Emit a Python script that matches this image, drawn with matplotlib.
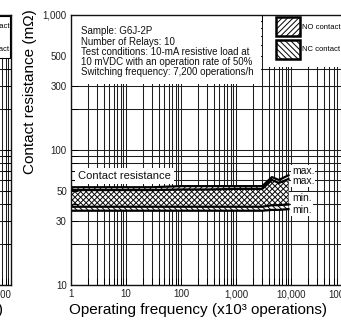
import numpy as np
import matplotlib
matplotlib.use('Agg')
import matplotlib.pyplot as plt
from matplotlib.patches import Patch, Rectangle
from matplotlib.ticker import NullFormatter, FuncFormatter

plt.rcParams['font.family'] = ['Liberation Sans', 'DejaVu Sans']
plt.rcParams['hatch.linewidth'] = 0.7

# ---- data ----
freq = [1, 3, 10, 30, 100, 300, 1000, 3000, 4500, 6000, 9000]
no_max = [53, 53, 53, 53, 54, 54, 54, 54, 63, 60, 65]
nc_max = [50.5, 50.5, 50.5, 50.5, 51, 51, 51.5, 51.5, 60, 57, 61]
no_min = [38, 38, 38, 38, 38, 38, 38, 38, 39, 39, 39.5]
nc_min = [35.5, 35.5, 35.5, 35.5, 35.5, 35.5, 35.5, 35.5, 36, 36, 36.5]

y_ticks = [10, 30, 50, 100, 300, 500, 1000]
x_ticks = [1, 10, 100, 1000, 10000, 100000, 1000000]
info_lines = ["Sample: G6J-2P",
              "Number of Relays: 10",
              "Test conditions: 10-mA resistive load at",
              "10 mVDC with an operation rate of 50%",
              "Switching frequency: 7,200 operations/h"]
legend_labels = ["NO contact", "NC contact"]
end_labels = ["max.", "max.", "min.", "min."]
end_label_y = [70, 59, 44, 36]

W, H = 341, 321
fig = plt.figure(figsize=(W / 100, H / 100), dpi=100)

GRID_C = '#1e1e1e'


def fmt(v, pos):
    return f"{v:,.0f}"


def setup(ax):
    ax.set_xscale('log')
    ax.set_yscale('log')
    ax.set_xlim(1, 1e6)
    ax.set_ylim(10, 1000)
    for e in range(6):
        for m in range(1, 10):
            ax.axvline(m * 10 ** e, color=GRID_C, lw=0.75, zorder=1)
    for e in (1, 2):
        for m in range(1, 10):
            ax.axhline(m * 10 ** e, color=GRID_C, lw=0.75, zorder=1)
    ax.set_xticks(x_ticks)
    ax.set_yticks(y_ticks)
    ax.xaxis.set_major_formatter(FuncFormatter(fmt))
    ax.yaxis.set_major_formatter(FuncFormatter(fmt))
    ax.xaxis.set_minor_formatter(NullFormatter())
    ax.yaxis.set_minor_formatter(NullFormatter())
    ax.tick_params(which='both', direction='in', length=5, width=0.7,
                   top=True, right=True, labelsize=7, labelcolor='#222222', pad=3)
    for s in ax.spines.values():
        s.set_linewidth(1.0)
        s.set_color('#111111')


def make_handles():
    return [Patch(facecolor='white', edgecolor='black', hatch='//////', linewidth=1.8),
            Patch(facecolor='white', edgecolor='black', hatch='\\\\\\\\\\\\', linewidth=1.8)]


LEG_KW = dict(fontsize=5.5, handlelength=3.1, handleheight=3.45,
              handletextpad=0.3, labelspacing=0.5)

# ---- partially visible neighbouring chart on the left ----
ax0 = fig.add_axes([(11 - 330) / W, 36 / H, 330 / W, 270 / H])
setup(ax0)
for lbl in ax0.get_xticklabels():
    lbl.set_horizontalalignment('right')
ax0.set_xlabel("Operating frequency (x10³ operations)", fontsize=11, ha='right', va='center')
ax0.xaxis.set_label_coords(1 - 8 / 330, -0.093)
leg0 = ax0.legend(make_handles(), legend_labels, loc='upper right', bbox_to_anchor=(1, 1),
                  borderaxespad=0.15, fancybox=False, framealpha=1,
                  edgecolor='black', borderpad=0.0, **LEG_KW)
leg0.get_frame().set_linewidth(0.8)

# ---- main chart ----
ax = fig.add_axes([71 / W, 36 / H, 330 / W, 270 / H])
setup(ax)

ax.fill_between(freq, nc_min, no_max, facecolor='white', lw=0, zorder=1.5)
ax.fill_between(freq, no_min, no_max, facecolor='none', edgecolor='black',
                hatch='//////', lw=0, zorder=1.6)
ax.fill_between(freq, nc_min, nc_max, facecolor='none', edgecolor='black',
                hatch='\\\\\\\\\\\\', lw=0, zorder=1.6)
for series in (no_max, nc_max, no_min, nc_min):
    ax.plot(freq, series, color='black', lw=1.6, zorder=2)

for lab, yv in zip(end_labels, end_label_y):
    ax.text(1.05e4, yv, lab, fontsize=7.5, va='center', ha='left', color='#111111',
            bbox=dict(facecolor='white', edgecolor='none', pad=0.6), zorder=2.3)

ax.text(0.021, 0.404, "Contact resistance", transform=ax.transAxes, fontsize=8,
        va='center', ha='left', color='#111111',
        bbox=dict(facecolor='white', edgecolor='none', pad=2.0), zorder=2.3)

# information box
ax.add_patch(Rectangle((1, 310), 2900 - 1, 1000 - 310, facecolor='white',
                       edgecolor='none', zorder=2.2))
ax.text(0.03, 0.958, "\n".join(info_lines), transform=ax.transAxes, fontsize=7.05,
        va='top', ha='left', linespacing=1.02, color='#111111', zorder=2.3)

# legend area
ax.add_patch(Rectangle((3100, 410), 1e6 - 3100, 1000 - 410, facecolor='white',
                       edgecolor='none', zorder=2.2))
leg = ax.legend(make_handles(), legend_labels, loc='upper left',
                bbox_to_anchor=((276 - 71) / 330, 1 - 2 / 270), borderaxespad=0,
                borderpad=0, frameon=False, **LEG_KW)
leg.set_zorder(2.3)

ax.set_ylabel("Contact resistance (mΩ)", fontsize=11, va='center')
ax.yaxis.set_label_coords(-0.124, 0.715)
ax.set_xlabel("Operating frequency (x10³ operations)", fontsize=11, va='center')
ax.xaxis.set_label_coords(0.385, -0.093)

fig.savefig('out.png', dpi=100)
